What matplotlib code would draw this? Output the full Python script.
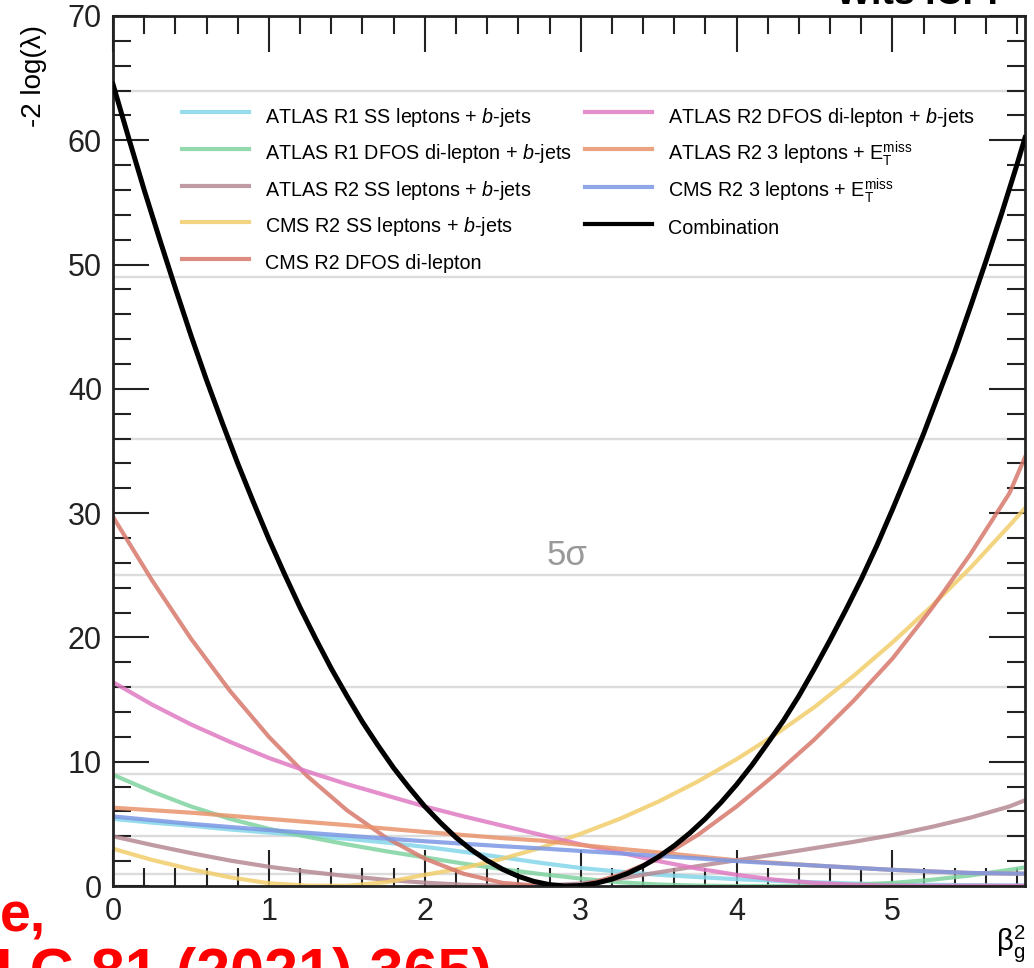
import matplotlib
matplotlib.use('Agg')
import matplotlib.pyplot as plt
from matplotlib.ticker import MultipleLocator
import numpy as np

plt.rcParams['font.family'] = ['Liberation Sans', 'DejaVu Sans']
plt.rcParams['mathtext.fontset'] = 'custom'
plt.rcParams['mathtext.rm'] = 'Liberation Sans'
plt.rcParams['mathtext.it'] = 'Liberation Sans:italic'

# -2 log(lambda) scans vs beta_g^2
x_q = [0, 0.25, 0.5, 0.75, 1.0, 1.25, 1.5, 1.75, 2.0, 2.25, 2.5, 2.75, 3.0, 3.25, 3.5, 3.75,
       4.0, 4.25, 4.5, 4.75, 5.0, 5.25, 5.5, 5.75, 5.85]

atlas_r1_ss = [5.4, 5.1, 4.85, 4.55, 4.3, 4.05, 3.8, 3.5, 3.15, 2.75, 2.3, 1.85, 1.45, 1.15, 0.9, 0.72,
               0.55, 0.42, 0.3, 0.2, 0.14, 0.1, 0.07, 0.05, 0.05]
atlas_r1_dfos = [8.95, 7.6, 6.4, 5.4, 4.6, 3.95, 3.35, 2.8, 2.3, 1.8, 1.35, 0.95, 0.6, 0.3, 0.12, 0.03,
                 0.0, 0.0, 0.03, 0.1, 0.25, 0.5, 0.85, 1.3, 1.5]
atlas_r2_ss = [4.0, 3.3, 2.65, 2.05, 1.55, 1.15, 0.8, 0.5, 0.27, 0.1, 0.02, 0.02, 0.2, 0.6, 1.1, 1.6,
               2.07, 2.55, 3.05, 3.55, 4.1, 4.75, 5.5, 6.4, 6.9]
cms_r2_ss = [3.0, 2.1, 1.35, 0.7, 0.22, 0.03, 0.02, 0.3, 0.9, 1.45, 2.2, 3.1, 4.2, 5.4, 6.8, 8.4,
             10.2, 12.2, 14.4, 16.9, 19.6, 22.5, 25.6, 29.0, 30.4]
cms_r2_dfos = [29.7, 24.6, 19.9, 15.7, 12.0, 8.8, 6.1, 3.9, 2.2, 0.98, 0.25, 0.0, 0.0, 0.9, 2.2, 4.1,
               6.4, 9.0, 11.8, 14.9, 18.3, 22.3, 26.7, 31.6, 34.5]
atlas_r2_dfos = [16.4, 14.6, 13.0, 11.6, 10.3, 9.2, 8.2, 7.3, 6.4, 5.6, 4.85, 4.1, 3.35, 2.7, 2.0, 1.4,
                 0.9, 0.5, 0.25, 0.1, 0.03, 0.02, 0.02, 0.02, 0.02]
atlas_r2_3l = [6.3, 6.1, 5.9, 5.65, 5.4, 5.15, 4.9, 4.62, 4.35, 4.1, 3.85, 3.65, 3.3, 3.0, 2.7, 2.38,
               2.07, 1.86, 1.65, 1.47, 1.3, 1.17, 1.05, 1.0, 1.0]
cms_r2_3l = [5.6, 5.3, 5.0, 4.75, 4.5, 4.28, 4.05, 3.82, 3.6, 3.4, 3.2, 3.02, 2.82, 2.62, 2.42, 2.22,
             2.0, 1.82, 1.65, 1.47, 1.3, 1.17, 1.05, 1.0, 1.0]

x_comb = [0, 0.1, 0.2, 0.3, 0.4, 0.5, 0.6, 0.7, 0.8, 0.9, 1.0, 1.1, 1.2, 1.3, 1.4, 1.5, 1.6, 1.7, 1.8, 1.9,
          2.0, 2.1, 2.2, 2.3, 2.4, 2.5, 2.6, 2.7, 2.8, 2.9, 3.0, 3.1, 3.2, 3.3, 3.4, 3.5, 3.6, 3.7, 3.8, 3.9,
          4.0, 4.1, 4.2, 4.3, 4.4, 4.5, 4.6, 4.7, 4.8, 4.9, 5.0, 5.1, 5.2, 5.3, 5.4, 5.5, 5.6, 5.7, 5.8, 5.85]
combination = [64.5, 60.2, 56.0, 52.0, 48.1, 44.3, 40.7, 37.3, 34.0, 30.9, 27.9, 25.1, 22.4, 19.9, 17.5, 15.3,
               13.2, 11.3, 9.5, 7.9, 6.4, 5.1, 3.9, 2.9, 2.05, 1.34, 0.78, 0.37, 0.11, 0.0, 0.04, 0.23, 0.55,
               1.01, 1.61, 2.35, 3.24, 4.26, 5.42, 6.72, 8.16, 9.75, 11.5, 13.3, 15.3, 17.5, 19.8, 22.2, 24.7,
               27.4, 30.3, 33.3, 36.4, 39.7, 43.0, 46.6, 50.3, 54.1, 58.1, 60.2]

labels = ['ATLAS R1 SS leptons + $b$-jets',
          'ATLAS R1 DFOS di-lepton + $b$-jets',
          'ATLAS R2 SS leptons + $b$-jets',
          'CMS R2 SS leptons + $b$-jets',
          'CMS R2 DFOS di-lepton',
          'ATLAS R2 DFOS di-lepton + $b$-jets',
          'ATLAS R2 3 leptons + E$_{\\mathregular{T}}^{\\mathregular{miss}}$',
          'CMS R2 3 leptons + E$_{\\mathregular{T}}^{\\mathregular{miss}}$',
          'Combination']
colors = ['#84d6ea', '#80d3a0', '#b58a93', '#f2cd6a', '#d8786c', '#e07ac2', '#e9936c', '#7b98e4', 'black']

# n sigma lines: n^2
sigma_levels = [1, 4, 9, 16, 25, 36, 49, 64]

fig = plt.figure(figsize=(10.34, 9.68), dpi=100)
ax = fig.add_axes([0.1093, 0.0847, 0.882, 0.8988])

for lev in sigma_levels:
    ax.axhline(lev, color='#dcdcdc', lw=1.7, zorder=0)

series = [atlas_r1_ss, atlas_r1_dfos, atlas_r2_ss, cms_r2_ss, cms_r2_dfos, atlas_r2_dfos, atlas_r2_3l, cms_r2_3l]
for y, lab, c in zip(series, labels[:-1], colors[:-1]):
    ax.plot(x_q, y, color=c, lw=3, alpha=0.85, label=lab)
ax.plot(x_comb, combination, color='black', lw=3.6, label=labels[-1], zorder=5)

ax.text(2.91, 25.3, '5σ', color='#999999', fontsize=25, ha='center', va='bottom')

ax.set_xlim(0, 5.85)
ax.set_ylim(0, 70)
ax.xaxis.set_major_locator(MultipleLocator(1))
ax.xaxis.set_minor_locator(MultipleLocator(0.2))
ax.yaxis.set_major_locator(MultipleLocator(10))
ax.yaxis.set_minor_locator(MultipleLocator(2))
ax.tick_params(which='both', direction='in', top=True, right=True, width=1.5, colors='#222222')
ax.tick_params(which='major', length=26, labelsize=22, pad=8)
ax.tick_params(which='minor', length=13)
for s in ax.spines.values():
    s.set_linewidth(2)
    s.set_color('#222222')

ax.set_ylabel('-2 log(λ)', fontsize=20, loc='top')
ax.yaxis.set_label_coords(-0.072, 0.99)
ax.set_xlabel('β$_{\\mathregular{g}}^{\\mathregular{2}}$', fontsize=21, loc='right')
ax.xaxis.set_label_coords(1.0, -0.042)

# tall handle boxes keep every legend row the same height
leg = ax.legend(ncol=2, loc='upper left', bbox_to_anchor=(0.0757, 0.9008), frameon=False,
                fontsize=14.2, handlelength=3.4, handleheight=1.8, handletextpad=0.8, columnspacing=0.65,
                labelspacing=0.44, borderpad=0, borderaxespad=0)
for h in leg.get_lines():
    h.set_linewidth(3)

# source line and header in red/black bold, running off the page edge
fig.text(46 / 1034, 1 - 932 / 968, 'e,', color='red', fontsize=40, fontweight='bold', ha='right', va='baseline')
fig.text(492 / 1034, 1 - 991 / 968, 'Eur. Phys. J C 81 (2021) 365)', color='red', fontsize=44,
         fontweight='bold', ha='right', va='baseline')
fig.text(1013 / 1034, 1 - 4 / 968, 'Wits ICPP', color='black', fontsize=27, fontweight='bold',
         ha='right', va='baseline')

fig.savefig('out.png', dpi=100)
